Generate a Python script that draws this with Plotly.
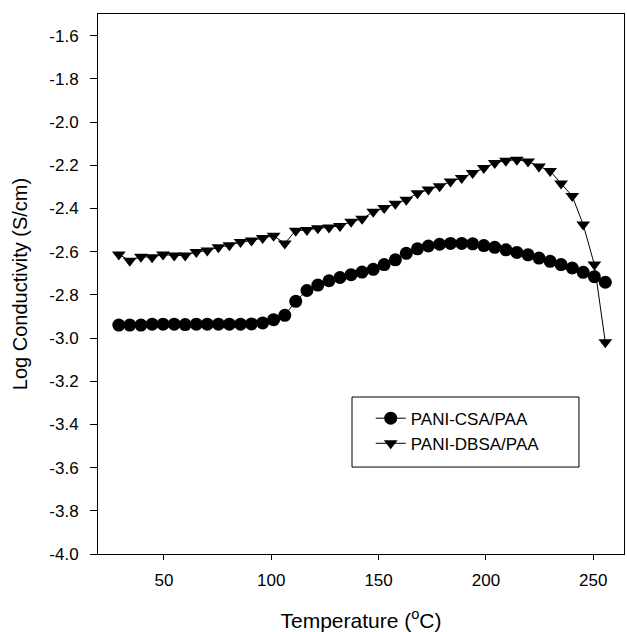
import plotly.graph_objects as go

temperature = [29.0, 34.1, 39.3, 44.5, 49.6, 54.8, 59.9, 65.1, 70.2, 75.4,
               80.5, 85.7, 90.8, 96.0, 101.1, 106.3, 111.4, 116.6, 121.7, 126.9,
               132.0, 137.2, 142.3, 147.5, 152.6, 157.8, 162.9, 168.1, 173.2, 178.4,
               183.5, 188.7, 193.8, 199.0, 204.1, 209.3, 214.4, 219.6, 224.7, 229.9,
               235.0, 240.2, 245.3, 250.5, 255.6]

csa_paa = [-2.940, -2.940, -2.940, -2.936, -2.936, -2.936, -2.938, -2.936, -2.936, -2.936,
           -2.936, -2.936, -2.935, -2.930, -2.915, -2.895, -2.830, -2.780, -2.755, -2.735,
           -2.720, -2.707, -2.695, -2.682, -2.660, -2.638, -2.608, -2.587, -2.574, -2.566,
           -2.562, -2.562, -2.564, -2.572, -2.580, -2.592, -2.604, -2.615, -2.630, -2.645,
           -2.660, -2.676, -2.696, -2.716, -2.742]

dbsa_paa = [-2.613, -2.642, -2.624, -2.626, -2.614, -2.618, -2.618, -2.602, -2.595, -2.580,
            -2.571, -2.556, -2.549, -2.537, -2.527, -2.562, -2.503, -2.500, -2.492, -2.488,
            -2.481, -2.462, -2.448, -2.416, -2.398, -2.378, -2.360, -2.330, -2.313, -2.297,
            -2.276, -2.259, -2.236, -2.213, -2.190, -2.179, -2.175, -2.183, -2.206, -2.227,
            -2.285, -2.343, -2.475, -2.660, -3.020]

series_names = ["PANI-CSA/PAA", "PANI-DBSA/PAA"]

y_tick_values = [-4.0, -3.8, -3.6, -3.4, -3.2, -3.0, -2.8, -2.6, -2.4, -2.2, -2.0, -1.8, -1.6]
y_tick_labels = ["-4.0", "-3.8", "-3.6", "-3.4", "-3.2", "-3.0", "-2.8", "-2.6", "-2.4",
                 "-2.2", "-2.0", "-1.8", "-1.6"]
x_tick_values = [50, 100, 150, 200, 250]
x_tick_labels = ["50", "100", "150", "200", "250"]

FONT = "Liberation Sans, Arial, sans-serif"

fig = go.Figure()
fig.add_trace(go.Scatter(
    x=temperature, y=csa_paa, name=series_names[0], mode="lines+markers",
    line=dict(color="black", width=1),
    marker=dict(symbol="circle", size=13, color="black"),
))
fig.add_trace(go.Scatter(
    x=temperature, y=dbsa_paa, name=series_names[1], mode="lines+markers",
    line=dict(color="black", width=1),
    marker=dict(symbol="triangle-down", size=12, color="black"),
))

# legend frame
fig.add_shape(type="rect", xref="paper", yref="paper",
              x0=0.4829, x1=0.9144, y0=0.161, y1=0.2907,
              line=dict(color="black", width=1), fillcolor="rgba(0,0,0,0)")

fig.update_layout(
    width=627, height=632,
    margin=dict(l=98, r=3, t=14, b=78),
    paper_bgcolor="white", plot_bgcolor="white",
    font=dict(family=FONT, size=17, color="black"),
    showlegend=True,
    legend=dict(x=0.5185, y=0.284, xanchor="left", yanchor="top",
                bgcolor="rgba(0,0,0,0)", borderwidth=0,
                font=dict(family=FONT, size=17, color="black"),
                tracegroupgap=0, itemwidth=30),
    xaxis=dict(
        range=[19.3, 264.3], tickmode="array",
        tickvals=x_tick_values, ticktext=x_tick_labels,
        showline=True, linecolor="black", linewidth=1, mirror=True,
        ticks="outside", ticklen=5, tickcolor="black", tickwidth=1,
        showgrid=False, zeroline=False,
        tickfont=dict(size=17), ticklabelstandoff=6,
        title=dict(text="Temperature (<sup>o</sup>C)", font=dict(size=21), standoff=23),
    ),
    yaxis=dict(
        range=[-4.0, -1.5], tickmode="array",
        tickvals=y_tick_values, ticktext=y_tick_labels,
        showline=True, linecolor="black", linewidth=1, mirror=True,
        ticks="outside", ticklen=7, tickcolor="black", tickwidth=1,
        showgrid=False, zeroline=False,
        tickfont=dict(size=17), ticklabelstandoff=8,
        title=dict(text="Log Conductivity (S/cm)", font=dict(size=20), standoff=16),
    ),
)

fig.write_html("out.html")
